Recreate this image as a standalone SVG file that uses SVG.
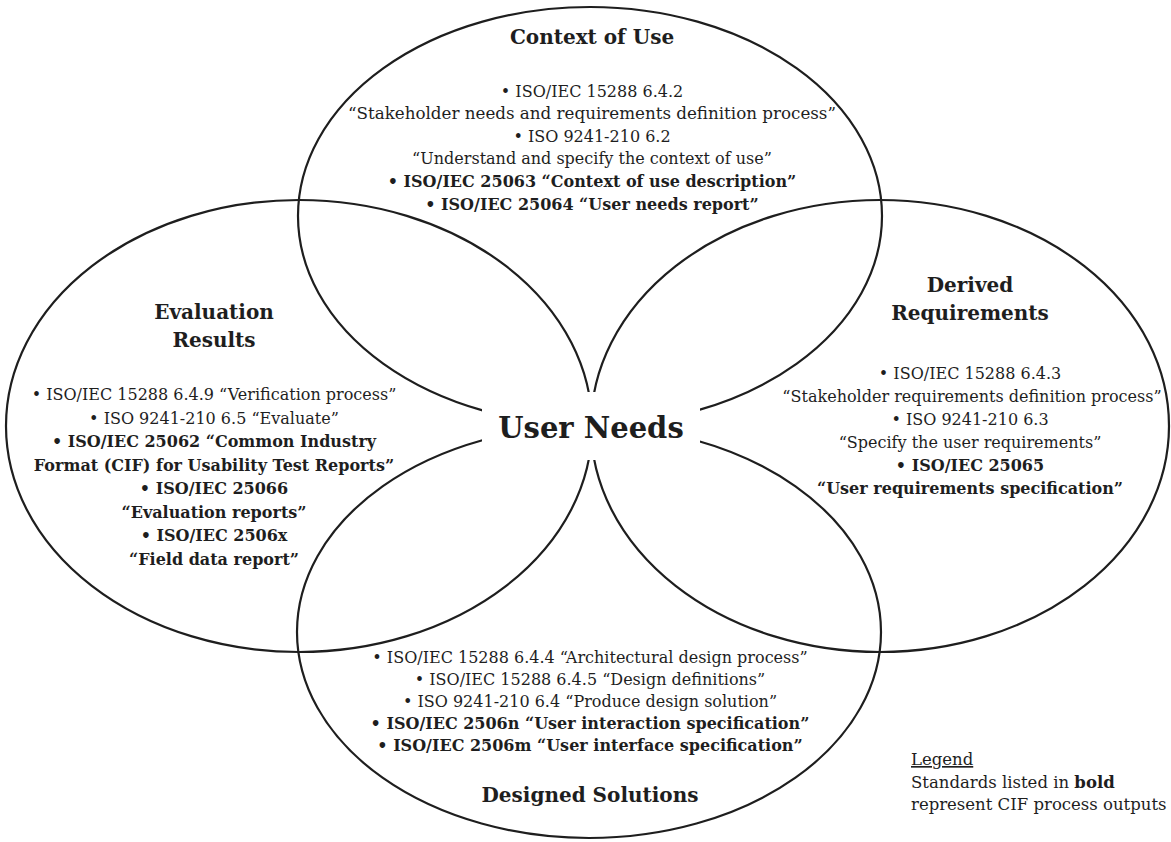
<svg xmlns="http://www.w3.org/2000/svg" width="1171" height="842" viewBox="0 0 1171 842">
<style>
.shape{fill:none;stroke:#1e1e1e;stroke-width:2.2}
.t{font-family:"DejaVu Serif","Liberation Serif",serif;font-size:16px;fill:#1e1e1e;text-anchor:middle}
.b{font-weight:bold}
.title{font-family:"DejaVu Serif","Liberation Serif",serif;font-size:20px;font-weight:bold;fill:#1e1e1e;text-anchor:middle}
.leg{font-family:"DejaVu Serif","Liberation Serif",serif;font-size:16.5px;fill:#1e1e1e}
</style>
<rect width="1171" height="842" fill="#ffffff"/>
<g id="context-of-use">
<ellipse class="shape" cx="590" cy="216" rx="292" ry="209"/>
</g>
<g id="evaluation-results">
<ellipse class="shape" cx="299" cy="426" rx="293" ry="226"/>
</g>
<g id="derived-requirements">
<ellipse class="shape" cx="880" cy="426" rx="289" ry="226"/>
</g>
<g id="designed-solutions">
<ellipse class="shape" cx="589" cy="632" rx="292" ry="206"/>
</g>
<g id="connectors"></g>
<g id="context-of-use-text">
<text class="title" x="592" y="44">Context of Use</text>
<text class="t" x="592" y="97">• ISO/IEC 15288 6.4.2</text>
<text class="t" x="592" y="119" textLength="488" lengthAdjust="spacingAndGlyphs">“Stakeholder needs and requirements definition process”</text>
<text class="t" x="592" y="142">• ISO 9241-210 6.2</text>
<text class="t" x="592" y="164">“Understand and specify the context of use”</text>
<text class="t b" x="592" y="187">• ISO/IEC 25063 “Context of use description”</text>
<text class="t b" x="592" y="210">• ISO/IEC 25064 “User needs report”</text>
</g>
<g id="evaluation-results-text">
<text class="title" x="214" y="319">Evaluation</text>
<text class="title" x="214" y="347">Results</text>
<text class="t" x="214" y="400">• ISO/IEC 15288 6.4.9 “Verification process”</text>
<text class="t" x="214" y="423.5">• ISO 9241-210 6.5 “Evaluate”</text>
<text class="t b" x="214" y="447">• ISO/IEC 25062 “Common Industry</text>
<text class="t b" x="214" y="470.5">Format (CIF) for Usability Test Reports”</text>
<text class="t b" x="214" y="494">• ISO/IEC 25066</text>
<text class="t b" x="214" y="517.5">“Evaluation reports”</text>
<text class="t b" x="214" y="541">• ISO/IEC 2506x</text>
<text class="t b" x="214" y="564.5">“Field data report”</text>
</g>
<g id="derived-requirements-text">
<text class="title" x="970" y="292">Derived</text>
<text class="title" x="970" y="320">Requirements</text>
<text class="t" x="970" y="379">• ISO/IEC 15288 6.4.3</text>
<text class="t" x="972" y="402">“Stakeholder requirements definition process”</text>
<text class="t" x="970" y="425">• ISO 9241-210 6.3</text>
<text class="t" x="970" y="448">“Specify the user requirements”</text>
<text class="t b" x="970" y="471">• ISO/IEC 25065</text>
<text class="t b" x="970" y="494">“User requirements specification”</text>
</g>
<g id="designed-solutions-text">
<text class="t" x="590" y="663">• ISO/IEC 15288 6.4.4 “Architectural design process”</text>
<text class="t" x="590" y="685">• ISO/IEC 15288 6.4.5 “Design definitions”</text>
<text class="t" x="590" y="707">• ISO 9241-210 6.4 “Produce design solution”</text>
<text class="t b" x="590" y="729">• ISO/IEC 2506n “User interaction specification”</text>
<text class="t b" x="590" y="751">• ISO/IEC 2506m “User interface specification”</text>
<text class="title" x="590" y="802">Designed Solutions</text>
</g>
<g id="user-needs">
<rect x="482" y="392" width="218" height="68" fill="#ffffff"/>
<text class="title" x="591" y="438" style="font-size:29px">User Needs</text>
</g>
<g id="legend">
<text class="leg" x="911" y="765" text-decoration="underline">Legend</text>
<text class="leg" x="911" y="788">Standards listed in <tspan font-weight="bold">bold</tspan></text>
<text class="leg" x="911" y="810">represent CIF process outputs</text>
</g>
</svg>
